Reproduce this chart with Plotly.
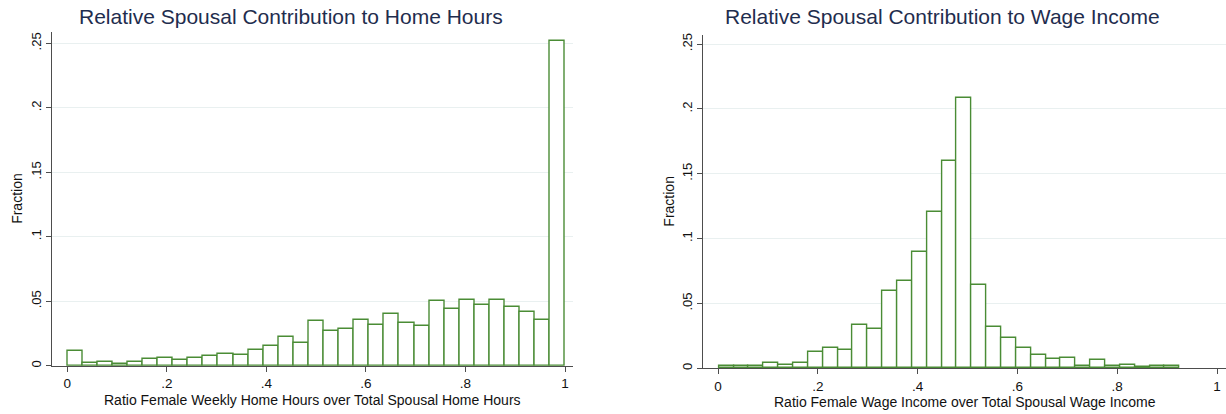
import plotly.graph_objects as go

# fractions per bin
home_fraction = [0.0112, 0.0020, 0.0026, 0.0010, 0.0026, 0.0050, 0.0057, 0.0044, 0.0057,
                 0.0078, 0.0091, 0.0085, 0.0124, 0.0153, 0.0220, 0.0174, 0.0347, 0.0272,
                 0.0285, 0.0352, 0.0314, 0.0401, 0.0329, 0.0306, 0.0500, 0.0440, 0.0508,
                 0.0469, 0.0512, 0.0458, 0.0419, 0.0352, 0.2520]
home_bin_start = 0.0
home_bin_width = 1 / 33

wage_fraction = [0.0015, 0.0015, 0.0020, 0.0038, 0.0023, 0.0038, 0.0123, 0.0156, 0.0141,
                 0.0335, 0.0302, 0.0593, 0.0670, 0.0900, 0.1209, 0.1598, 0.2088, 0.0644,
                 0.0315, 0.0236, 0.0154, 0.0100, 0.0074, 0.0080, 0.0015, 0.0062, 0.0015,
                 0.0023, 0.0008, 0.0015, 0.0015]
wage_bin_start = 0.002
wage_bin_width = 0.02977

x_tickvals = [0, 0.2, 0.4, 0.6, 0.8, 1]
x_ticktext = ["0", ".2", ".4", ".6", ".8", "1"]
y_tickvals = [0, 0.05, 0.1, 0.15, 0.2, 0.25]
y_ticktext = ["0", ".05", ".1", ".15", ".2", ".25"]

titles = ["Relative Spousal Contribution to Home Hours",
          "Relative Spousal Contribution to Wage Income"]
x_titles = ["Ratio Female Weekly Home Hours over Total Spousal Home Hours",
            "Ratio Female Wage Income over Total Spousal Wage Income"]

W, H = 1226, 414
FONT = "Liberation Sans, Arial, Helvetica, sans-serif"
GREEN = "#4a8c35"
AXIS = "#4d4d4d"
GRID = "#e9f0f0"

def centers(start, width, n):
    return [start + width * (i + 0.5) for i in range(n)]

fig = go.Figure()
fig.add_trace(go.Bar(x=centers(home_bin_start, home_bin_width, len(home_fraction)),
                     y=home_fraction, width=home_bin_width,
                     marker=dict(color="white", line=dict(color=GREEN, width=1.4)),
                     xaxis="x", yaxis="y", showlegend=False))
fig.add_trace(go.Bar(x=centers(wage_bin_start, wage_bin_width, len(wage_fraction)),
                     y=wage_fraction, width=wage_bin_width,
                     marker=dict(color="white", line=dict(color=GREEN, width=1.4)),
                     xaxis="x2", yaxis="y2", showlegend=False))

# plot areas in pixels (left, right, top, bottom)
boxes = [(51.7, 573, 32, 365.7), (703.3, 1226, 35, 368.3)]
xranges = [[-0.0313, 1.016], [-0.0295, 1.018]]
yranges = [[0, 0.2588], [0, 0.257]]

axis_common = dict(showline=True, linecolor=AXIS, linewidth=1, ticks="outside",
                   ticklen=5, tickcolor=AXIS, tickfont=dict(family=FONT, size=13.5, color="#111"),
                   zeroline=False, automargin=False)

layout = {}
for i, (l, r, t, b) in enumerate(boxes):
    sx = "" if i == 0 else "2"
    layout["xaxis" + sx] = dict(axis_common, domain=[l / W, r / W], range=xranges[i],
                                tickvals=x_tickvals, ticktext=x_ticktext, showgrid=False,
                                anchor="y" + sx)
    layout["yaxis" + sx] = dict(axis_common, domain=[(H - b) / H, (H - t) / H], range=yranges[i],
                                tickvals=y_tickvals, ticktext=y_ticktext, tickangle=-90,
                                showgrid=True, gridcolor=GRID, gridwidth=1,
                                anchor="x" + sx)
    layout["yaxis" + sx]["tickfont"] = dict(family=FONT, size=13, color="#111")

annotations = []
title_cx = [291, 942.5]
fraction_x = [17, 669]
for i, (l, r, t, b) in enumerate(boxes):
    annotations.append(dict(text=titles[i], x=title_cx[i] / W, y=1 - 17 / H, xref="paper", yref="paper",
                            xanchor="center", yanchor="middle", showarrow=False,
                            font=dict(family=FONT, size=21, color="#1f2d4e")))
    annotations.append(dict(text=x_titles[i], x=(l + r) / 2 / W, y=1 - (b + 34) / H, xref="paper", yref="paper",
                            xanchor="center", yanchor="middle", showarrow=False,
                            font=dict(family=FONT, size=14, color="#111")))
    annotations.append(dict(text="Fraction", x=fraction_x[i] / W, y=1 - ((t + b) / 2) / H,
                            xref="paper", yref="paper", textangle=-90,
                            xanchor="center", yanchor="middle", showarrow=False,
                            font=dict(family=FONT, size=14, color="#111")))

fig.update_layout(width=W, height=H, margin=dict(l=0, r=0, t=0, b=0),
                  paper_bgcolor="white", plot_bgcolor="white", bargap=0,
                  annotations=annotations, **layout)

# drop the default page margin so the figure sits at the window's corner
fig.write_html("out.html", config={"displayModeBar": False},
               post_script="document.body.style.margin='0px';")
